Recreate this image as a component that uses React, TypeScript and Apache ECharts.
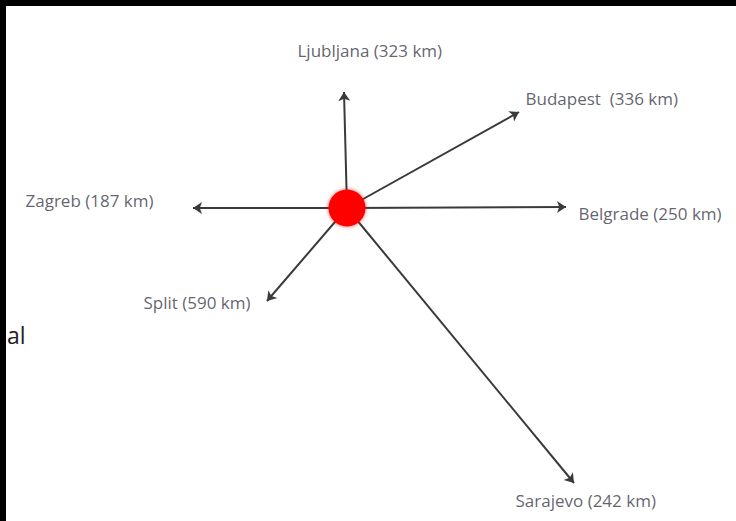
import React, { useEffect, useRef } from "react";
import * as echarts from "echarts";

const cityNames = ["Ljubljana", "Budapest ", "Belgrade", "Zagreb", "Split", "Sarajevo"];
const distancesKm = [323, 336, 250, 187, 590, 242];
const hub = [347, 208];
const arrowTips = [
  [344, 92],
  [519, 112],
  [566, 207],
  [193, 208],
  [267, 301],
  [574, 483],
];
const labelAnchors = [
  [297, 50],
  [525, 98],
  [578, 213],
  [25, 200],
  [143, 302],
  [515, 500],
];

export default function App() {
  const ref = useRef<HTMLDivElement>(null);
  useEffect(() => {
    document.body.style.margin = "0";
    const chart = echarts.init(ref.current!, null, { renderer: "svg" });
    const labelData = cityNames.map((n, i) => ({
      value: labelAnchors[i],
      name: `${n} (${distancesKm[i]} km)`,
    }));
    chart.setOption({
      animation: false,
      backgroundColor: "#000",
      grid: { left: 0, right: 0, top: 0, bottom: 0 },
      xAxis: { type: "value", min: 0, max: 736, show: false },
      yAxis: { type: "value", min: 0, max: 521, inverse: true, show: false },
      graphic: [
        { type: "rect", shape: { x: 6, y: 6, width: 730, height: 515 }, style: { fill: "#fff" }, z: -10 },
        {
          type: "text",
          x: 7,
          y: 335,
          style: { text: "al", font: '23px "Open Sans"', fill: "#222", verticalAlign: "middle" },
        },
      ],
      series: [
        {
          type: "lines",
          coordinateSystem: "cartesian2d",
          symbol: ["none", "arrow"],
          symbolSize: 9,
          lineStyle: { color: "#3a3a3a", width: 2, opacity: 1 },
          data: arrowTips.map((t) => ({ coords: [hub, t] })),
          z: 2,
        },
        {
          type: "scatter",
          symbolSize: 1,
          itemStyle: { color: "rgba(0,0,0,0)" },
          label: {
            show: true,
            position: "right",
            distance: 0,
            formatter: (p: any) => p.name,
            fontFamily: "Open Sans",
            fontSize: 17,
            color: "#3a3a48",
          },
          data: labelData,
          z: 3,
        },
        {
          type: "scatter",
          symbolSize: 37,
          itemStyle: { color: "#ff0000", opacity: 1, shadowBlur: 4, shadowColor: "rgba(255,0,0,0.6)" },
          data: [hub],
          z: 5,
        },
      ],
    });
    return () => chart.dispose();
  }, []);
  return <div ref={ref} style={{ width: 736, height: 521 }} />;
}
